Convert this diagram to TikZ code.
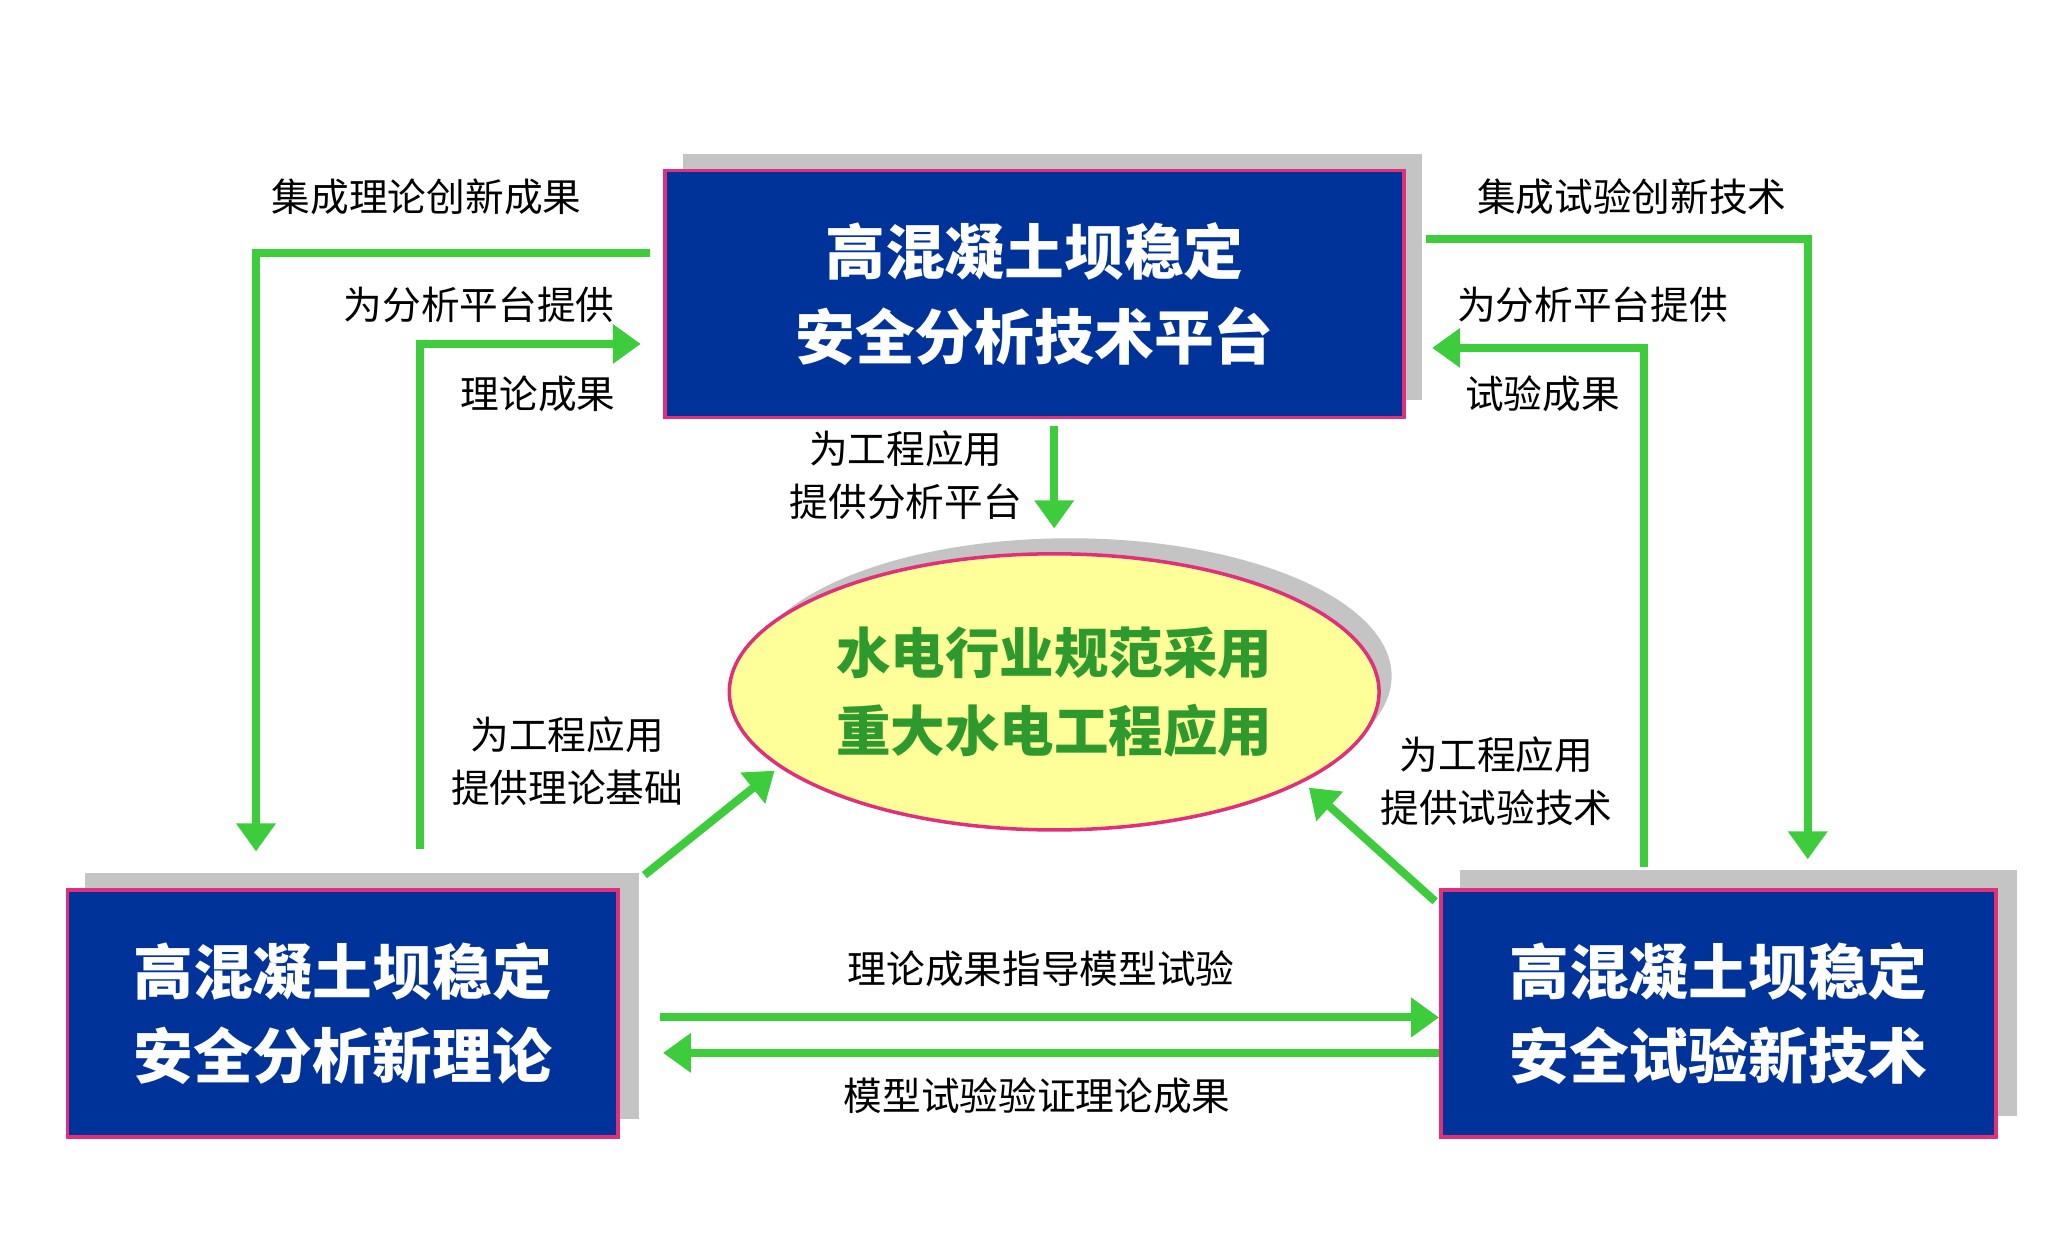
\documentclass[tikz,border=0pt]{standalone}
\usepackage{fontspec}
\setmainfont{Noto Sans CJK SC}
\usetikzlibrary{arrows.meta, positioning, shapes.geometric, calc}
\definecolor{boxcol}{HTML}{003399}
\definecolor{edgecol}{HTML}{E0307A}
\definecolor{shadowcol}{HTML}{C4C4C4}
\definecolor{ellcol}{HTML}{FFFF99}
\definecolor{ellText}{HTML}{2E9A2E}
\definecolor{arrowcol}{HTML}{3CCC3C}
\begin{document}
\begin{tikzpicture}[
    x=0.013128cm, y=-0.013128cm,
    >={Triangle[length=0.28cm, width=0.38cm]},
    mainbox/.style={
        draw=edgecol, fill=boxcol, line width=1pt, text=white, align=center,
        font=\fontsize{17}{24}\selectfont\bfseries, inner sep=0pt
    },
    shadowbox/.style={fill=shadowcol},
    flow/.style={->, arrowcol, line width=2.3pt},
    annot/.style={font=\fontsize{11}{15}\selectfont, align=center, inner sep=1pt},
]
\useasboundingbox (0,0) rectangle (1560,957);

% ── Shadows ──
\fill[shadowbox] (520,117) rectangle (1083,305);
\fill[shadowbox] (65,665) rectangle (487,852);
\fill[shadowbox] (1112,663) rectangle (1536,850);
\fill[shadowbox] (815,515) ellipse [x radius=245, y radius=105];

% ── Nodes ──
\node[mainbox, minimum width=7.39cm, minimum height=2.47cm] (plat) at (788,224)
    {高混凝土坝稳定\\安全分析技术平台};
\node[mainbox, minimum width=5.5cm, minimum height=2.47cm] (theory) at (261,772)
    {高混凝土坝稳定\\安全分析新理论};
\node[mainbox, minimum width=5.55cm, minimum height=2.47cm] (test) at (1309,772)
    {高混凝土坝稳定\\安全试验新技术};
\node[draw=edgecol, fill=ellcol, line width=1pt, ellipse, minimum width=6.43cm,
      minimum height=2.76cm, text=ellText, align=center,
      font=\fontsize{15.5}{22}\selectfont\bfseries] (app) at (803,527)
    {水电行业规范采用\\重大水电工程应用};

% ── Coordinates ──
\coordinate (lo) at (195,193);
\coordinate (li) at (320,262);
\coordinate (ro) at (1377,182);
\coordinate (ri) at (1252,265);

% ── Outer loops ──
\draw[flow] ($(plat.west)+(-10,-31)$) -- (lo) -- ($(lo|-theory.north)+(0,-28)$);
\draw[flow] ($(plat.east)+(15,-42)$) -- (ro) -- ($(ro|-test.north)+(0,-22)$);

% ── Inner loops ──
\draw[flow] ($(li|-theory.north)+(0,-30)$) -- (li) -- ($(plat.west|-li)+(-17,0)$);
\draw[flow] ($(ri|-test.north)+(0,-16)$) -- (ri) -- ($(plat.east|-ri)+(20,0)$);

% ── To application ──
\draw[flow] ($(plat.south)+(15,5)$) -- ($(app.north)+(0,-18)$);
\draw[flow] ($(theory.north east)+(19,-10)$) -- (590,587);
\draw[flow] ($(test.north west)+(-3,10)$) -- (997,600);

% ── Between theory and test ──
\draw[flow] (503,775) -- (test.west|-0,775);
\draw[flow] (test.west|-0,802) -- (505,802);

% ── Labels ──
\node[annot] (l1) at (325,150) {集成理论创新成果};
\node[annot] (l2) at (365,232) {为分析平台提供};
\node[annot] (l3) at (410,300) {理论成果};
\node[annot] (r1) at (1243,150) {集成试验创新技术};
\node[annot] (r2) at (1213,232) {为分析平台提供};
\node[annot] (r3) at (1175,300) {试验成果};
\node[annot] (m1) at (690,362) {为工程应用\\提供分析平台};
\node[annot] (m2) at (432,580) {为工程应用\\提供理论基础};
\node[annot] (m3) at (1140,595) {为工程应用\\提供试验技术};
\node[annot] (h1) at (793,738) {理论成果指导模型试验};
\node[annot] (h2) at (790,835) {模型试验验证理论成果};
\end{tikzpicture}
\end{document}
